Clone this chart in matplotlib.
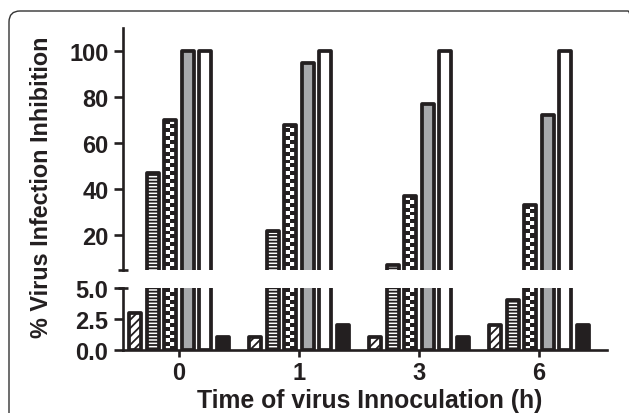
import numpy as np
import matplotlib
matplotlib.use("Agg")
import matplotlib.pyplot as plt
from matplotlib.colors import ListedColormap
from matplotlib.patches import FancyBboxPatch
from matplotlib.transforms import IdentityTransform

plt.rcParams['font.family'] = ['Liberation Sans', 'DejaVu Sans']
plt.rcParams['font.weight'] = 'bold'
plt.rcParams['hatch.linewidth'] = 1.3

# ---------------- data ----------------
groups = ["0", "1", "3", "6"]
s_diag = [3, 1, 1, 2]          # diagonal hatch
s_horiz = [47, 22, 7, 4]       # horizontal stripes
s_check = [70, 68, 37, 33]     # checker pattern
s_gray = [100, 95, 77, 72]     # gray
s_white = [100, 100, 100, 100] # white
s_black = [1, 2, 1, 2]         # black
xlabel = "Time of virus Innoculation (h)"
ylabel = "% Virus Infection Inhibition"
upper_ticks = [20, 40, 60, 80, 100]
lower_ticks = [0.0, 2.5, 5.0]

DARK = "#231f20"
GRAY = "#a7a9ac"

W, H = 629, 414
fig = plt.figure(figsize=(W / 100, H / 100), dpi=100)

def fb(x0, y_top, x1, y_bot):
    return [x0 / W, 1 - y_bot / H, (x1 - x0) / W, (y_bot - y_top) / H]

ax_up = fig.add_axes(fb(123, 29, 607, 270.7))
ax_lo = fig.add_axes(fb(123, 289, 607, 350.7))

x = np.arange(len(groups))
pitch = 0.1458
bw = 0.097
lw = 2.7
lw_px = lw * 100 / 72

series = [
    (s_diag, dict(facecolor="white", hatch="////")),
    (s_horiz, dict(facecolor="white", hatch="-----")),
    (s_check, "checker"),
    (s_gray, dict(facecolor=GRAY)),
    (s_white, dict(facecolor="white")),
    (s_black, dict(facecolor=DARK)),
]

YL = {ax_up: (5, 110), ax_lo: (0, 5)}
for ax in (ax_up, ax_lo):
    ax.set_xlim(-0.467, 3.567)
    ax.set_ylim(*YL[ax])

def checker_fill(ax, rect):
    x0 = rect.get_x(); w = rect.get_width(); h = rect.get_height()
    ylo, yhi = YL[ax]
    y0 = max(0, ylo); y1 = min(h, yhi)
    if y1 <= y0:
        return
    p0 = ax.transData.transform((x0, y0))
    p1 = ax.transData.transform((x0 + w, y1))
    wpx = p1[0] - p0[0]; hpx = p1[1] - p0[1]
    sq = max(2.0, (wpx - lw_px) / 2.0)
    rows = max(1, int(round(hpx / sq)))
    arr = np.indices((rows, 2)).sum(axis=0) % 2
    ax.imshow(arr, extent=(x0, x0 + w, y0, y1), origin="lower",
              cmap=ListedColormap(["white", DARK]), interpolation="nearest",
              aspect="auto", zorder=2.5)

for ax in (ax_up, ax_lo):
    for i, (vals, style) in enumerate(series):
        pos = x + (i - 2.5) * pitch
        if style == "checker":
            bars = ax.bar(pos, vals, width=bw, facecolor="white", edgecolor="none",
                          linewidth=0, zorder=2)
            for r in bars:
                checker_fill(ax, r)
            ob = ax.bar(pos, vals, width=bw, fill=False, edgecolor=DARK,
                        linewidth=lw, zorder=3)
            for r in ob:
                r.set_joinstyle("round")
        else:
            bars = ax.bar(pos, vals, width=bw, edgecolor=DARK, linewidth=lw,
                          zorder=3, **style)
            for r in bars:
                r.set_joinstyle("round")
    ax.set_xlim(-0.467, 3.567)
    ax.set_ylim(*YL[ax])
    for s in ("top", "right"):
        ax.spines[s].set_visible(False)
    for s in ("left", "bottom"):
        ax.spines[s].set_linewidth(1.9)
        ax.spines[s].set_color(DARK)
    ax.tick_params(axis="y", length=6.5, width=1.9, color=DARK, labelsize=17,
                   pad=4, labelcolor=DARK)
    ax.tick_params(axis="x", length=5, width=1.9, color=DARK, labelsize=17,
                   pad=3, labelcolor=DARK)

ax_up.set_yticks(upper_ticks)
ax_up.set_yticklabels([str(t) for t in upper_ticks])
ax_lo.set_yticks(lower_ticks)
ax_lo.set_yticklabels([f"{t:.1f}" for t in lower_ticks])
ax_up.spines["bottom"].set_visible(False)
ax_up.set_xticks([])
ax_lo.set_xticks(x)
ax_lo.set_xticklabels(groups)
for lab in ax_up.get_yticklabels() + ax_lo.get_yticklabels() + ax_lo.get_xticklabels():
    lab.set_fontweight("bold")

# break caps on the left spine
ax_up.plot([0], [0], marker="_", ms=7.5, mew=1.9, color=DARK,
           transform=ax_up.transAxes, clip_on=False, zorder=5)
ax_lo.plot([0], [1], marker="_", ms=7.5, mew=1.9, color=DARK,
           transform=ax_lo.transAxes, clip_on=False, zorder=5)

fig.text(42 / W, 1 - 187 / H, ylabel, rotation=90, ha="center", va="center",
         fontsize=16.8, fontweight="bold", color=DARK)
fig.text(370 / W, 1 - 401 / H, xlabel, ha="center", va="center",
         fontsize=17.8, fontweight="bold", color=DARK)

# rounded frame (display pixel coordinates, origin bottom-left)
frame = FancyBboxPatch((9, -20), 630, H - 12 + 20,
                       boxstyle="round,pad=0,rounding_size=11",
                       transform=IdentityTransform(), fill=False,
                       edgecolor="#333333", linewidth=1.0, clip_on=False)
fig.patches.append(frame)

fig.savefig("out.png", dpi=100)
